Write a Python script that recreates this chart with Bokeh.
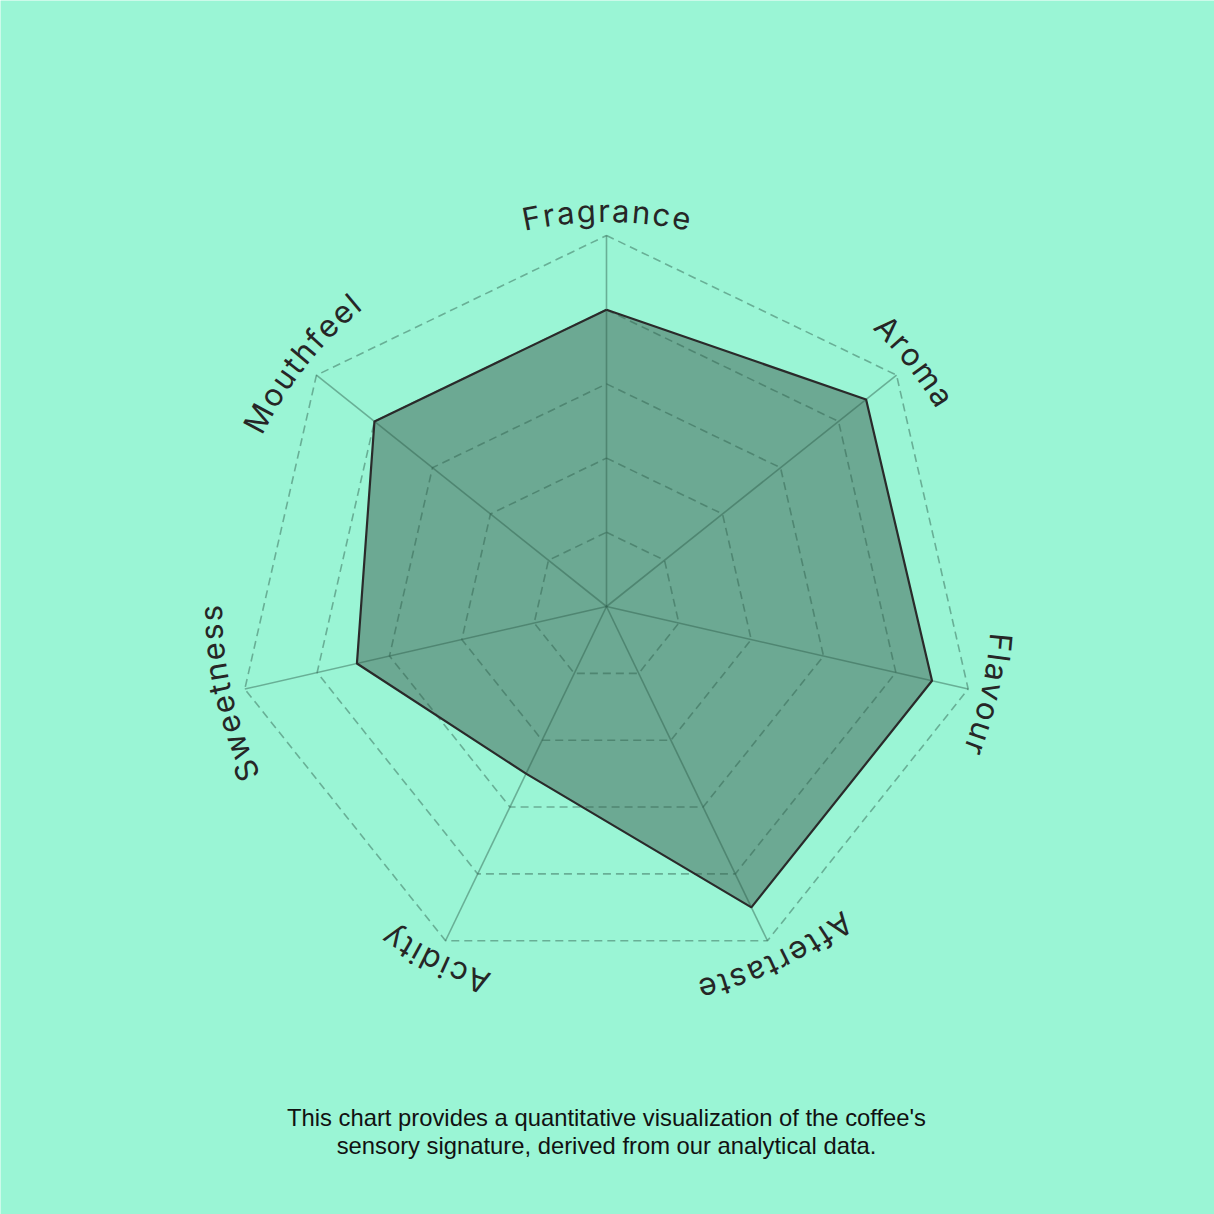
import math
import subprocess

from bokeh.plotting import figure
from bokeh.models import ColumnDataSource, Range1d
from bokeh.core.properties import value
from bokeh.embed import file_html
from bokeh.resources import INLINE

# ---------------- data ----------------
categories = ["Fragrance", "Aroma", "Flavour", "Aftertaste", "Acidity", "Sweetness", "Mouthfeel"]
scores = [8.0, 8.95, 9.0, 9.0, 5.0, 6.9, 8.0]
max_score = 10.0
ring_levels = [2, 4, 6, 8, 10]
caption_lines = [
    "This chart provides a quantitative visualization of the coffee's",
    "sensory signature, derived from our analytical data.",
]

# ---------------- layout constants ----------------
W = H = 1214
R = 371.0            # radius of the outer ring (px == data units)
LABEL_R = 396.0      # radius of the (vertical middle of the) curved labels
LABEL_FONT = "Inter"
LABEL_SIZE = 31
LETTER_SPACING = 2.5
BG = "#9af5d5"
GRID_COLOR = "#2d5a4a"

n = len(categories)
angles = [2 * math.pi * i / n for i in range(n)]  # clockwise from top


def polar(r, theta):
    return r * math.sin(theta), r * math.cos(theta)


def scale(v):
    return v / max_score * R


p = figure(width=W, height=H, output_backend="svg", toolbar_location=None,
           x_range=Range1d(-606, 608), y_range=Range1d(-608, 606),
           min_border=0, background_fill_color=BG, border_fill_color=BG)
p.axis.visible = False
p.grid.visible = False
p.outline_line_color = None

# ---------------- data polygon (fill) ----------------
pts = [polar(scale(v), a) for v, a in zip(scores, angles)]
poly_x = [q[0] for q in pts]
poly_y = [q[1] for q in pts]
p.patch(poly_x, poly_y, fill_color="#3d5e52", fill_alpha=0.5, line_color=None)

# ---------------- grid rings & spokes ----------------
ring_xs, ring_ys = [], []
for lv in ring_levels:
    rp = [polar(scale(lv), a) for a in angles]
    ring_xs.append([q[0] for q in rp] + [rp[0][0]])
    ring_ys.append([q[1] for q in rp] + [rp[0][1]])
p.multi_line(ring_xs, ring_ys, line_color=GRID_COLOR, line_alpha=0.45,
             line_width=1.6, line_dash="8 5")

spoke_xs, spoke_ys = [], []
for a in angles:
    ox, oy = polar(scale(max_score), a)
    spoke_xs.append([0, ox])
    spoke_ys.append([0, oy])
p.multi_line(spoke_xs, spoke_ys, line_color=GRID_COLOR, line_alpha=0.45, line_width=1.6)

# ---------------- data polygon (outline) ----------------
p.line(poly_x + [poly_x[0]], poly_y + [poly_y[0]], line_color="#2a2a2a", line_width=2.2)


# ---------------- curved labels ----------------
def font_path(name):
    try:
        out = subprocess.run(["fc-match", "-f", "%{file}", name],
                             capture_output=True, text=True, timeout=5).stdout.strip()
        return out or None
    except Exception:
        return None


_font = None
try:
    from PIL import ImageFont
    _fp = font_path(LABEL_FONT)
    if _fp:
        _font = ImageFont.truetype(_fp, LABEL_SIZE)
except Exception:
    _font = None


def char_width(c):
    if _font is not None:
        try:
            return _font.getlength(c)
        except Exception:
            pass
    return LABEL_SIZE * 0.56


ch_x, ch_y, ch_t, ch_a = [], [], [], []
for label, a in zip(categories, angles):
    widths = [char_width(c) for c in label]
    total = sum(widths) + LETTER_SPACING * (len(label) - 1)
    start = a - (total / 2) / LABEL_R
    s = 0.0
    for c, w in zip(label, widths):
        th = start + (s + w / 2) / LABEL_R
        x, y = polar(LABEL_R, th)
        ch_x.append(x)
        ch_y.append(y)
        ch_t.append(c)
        ch_a.append(-th)
        s += w + LETTER_SPACING

src = ColumnDataSource(dict(x=ch_x, y=ch_y, text=ch_t, angle=ch_a))
p.text(x="x", y="y", text="text", angle="angle", source=src,
       text_font=value(LABEL_FONT), text_font_size=f"{LABEL_SIZE}px",
       text_color="#262626", text_align="center", text_baseline="middle")

# ---------------- caption ----------------
cap_src = ColumnDataSource(dict(x=[0, 0], y=[-511, -539], text=caption_lines))
p.text(x="x", y="y", text="text", source=cap_src,
       text_font=value("Liberation Sans"), text_font_size="23.8px",
       text_color="#111111", text_align="center", text_baseline="middle")

open("out.html", "w").write(file_html(p, INLINE))
